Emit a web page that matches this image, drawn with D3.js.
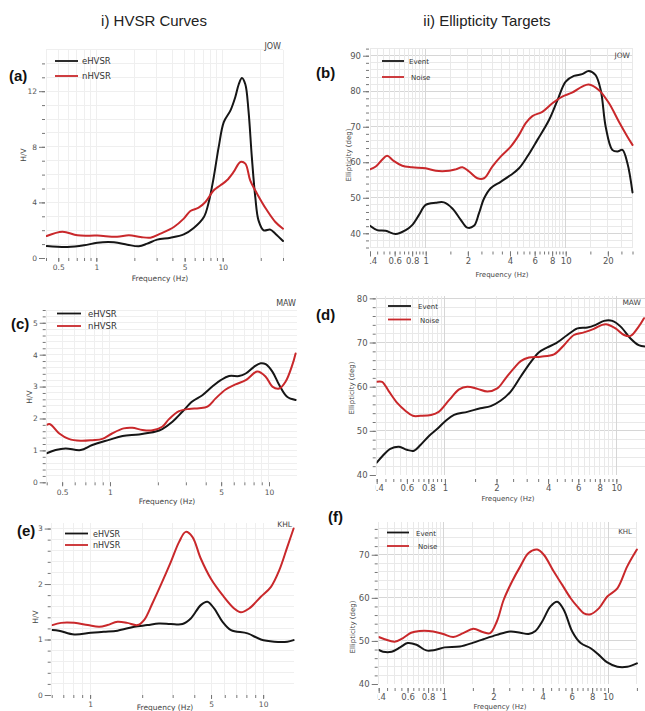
<!DOCTYPE html>
<html>
<head>
<meta charset="utf-8">
<script src="https://cdn.jsdelivr.net/npm/d3@7"></script>
<style>
  body { margin: 0; background: #fff; }
  svg { display: block; }
  text { font-family: "DejaVu Sans", Verdana, sans-serif; }
</style>
</head>
<body>
<svg id="fig" width="645" height="711"></svg>
<script>
// ---------- (a) JOW, HVSR ----------
const aFreqE = [0.405,0.59,0.80,1.02,1.38,1.76,2.17,2.53,3.03,3.86,4.92,5.9,7.1,7.76,8.5,9.3,10.2,11.5,12.6,13.4,14.2,15.1,16.0,17.0,18.1,19.2,21.1,23.8,26.1,30];
const aHVE   = [0.86,0.79,0.91,1.10,1.13,0.96,0.84,1.03,1.32,1.46,1.70,2.16,2.95,4.03,5.83,7.99,9.78,10.6,11.6,12.5,12.95,12.5,10.6,7.27,4.39,2.71,1.99,2.04,1.75,1.22];
const aFreqN = [0.405,0.54,0.71,1.02,1.46,1.81,2.24,2.68,3.22,4.11,4.92,5.55,6.45,7.3,8.5,9.6,10.8,12.2,13.8,15.1,16.5,18.7,22.4,26.1,30];
const aHVN   = [1.58,1.89,1.63,1.61,1.53,1.63,1.51,1.46,1.75,2.23,2.83,3.38,3.62,4.03,4.87,5.23,5.59,6.19,6.91,6.79,5.59,4.63,3.43,2.59,2.11];

// ---------- (b) JOW, ellipticity ----------
const bFreqE = [0.4,0.45,0.518,0.61,0.72,0.80,0.896,1.0,1.18,1.35,1.55,1.78,1.98,2.21,2.40,2.61,2.91,3.43,4.05,4.64,5.32,6.28,7.6,8.74,10.0,11.45,13.1,14.6,16.3,17.8,19.3,21.5,23.4,25.4,27.6,30];
const bEllE  = [42.1,40.9,40.7,39.8,40.9,42.3,45.2,48.0,48.6,48.7,47.0,43.8,41.6,42.1,45.6,49.8,52.7,54.5,56.4,58.3,61.6,66.3,71.9,77.5,82.7,84.3,84.8,85.7,84.6,80.3,70.0,63.5,63.0,63.5,59.7,51.5];
const bFreqN = [0.4,0.44,0.49,0.53,0.59,0.68,0.80,1.0,1.18,1.47,1.64,1.83,2.04,2.34,2.61,2.99,3.43,4.05,4.64,5.18,5.78,6.81,8.03,9.45,11.1,13.1,14.6,17.3,20.4,24.0,27.6,30];
const bEllN  = [58.0,58.8,60.8,61.8,60.4,59.0,58.6,58.3,57.6,57.6,58.0,58.6,57.4,55.5,55.5,58.8,61.6,64.4,67.7,71.0,73.0,74.2,76.6,78.5,79.6,81.3,81.9,80.3,76.6,71.4,67.2,64.9];

// ---------- (c) MAW, HVSR ----------
const cFreqE = [0.4,0.455,0.526,0.654,0.774,0.986,1.20,1.52,1.94,2.13,2.47,2.85,3.29,3.81,4.40,4.97,5.61,6.48,7.14,8.05,8.87,9.53,10.5,11.6,13.0,14.7];
const cHVE   = [0.91,1.01,1.06,1.01,1.17,1.33,1.45,1.50,1.59,1.67,1.90,2.21,2.53,2.73,3.00,3.20,3.33,3.33,3.41,3.62,3.73,3.70,3.47,3.05,2.68,2.58];
const cFreqN = [0.4,0.42,0.48,0.55,0.654,0.774,0.895,1.03,1.22,1.38,1.60,1.85,2.13,2.35,2.72,3.14,3.63,4.10,4.62,5.34,6.16,7.14,8.44,9.53,10.5,11.6,12.7,14.0,14.7];
const cHVN   = [1.80,1.82,1.53,1.36,1.30,1.32,1.36,1.53,1.69,1.71,1.64,1.63,1.74,1.98,2.23,2.30,2.32,2.37,2.63,2.91,3.07,3.20,3.47,3.31,3.00,2.94,3.15,3.67,4.04];

// ---------- (d) MAW, ellipticity ----------
const dFreqE = [0.40,0.43,0.48,0.54,0.60,0.66,0.72,0.81,0.90,1.0,1.13,1.35,1.61,1.85,2.11,2.42,2.77,3.16,3.54,3.96,4.43,5.18,5.93,6.78,7.58,8.48,9.48,10.6,12.1,13.5,14.8];
const dEllE  = [42.8,44.2,45.9,46.4,45.7,45.5,46.8,48.9,50.4,52.1,53.6,54.3,55.1,55.6,56.8,58.9,62.3,65.5,67.8,68.9,69.8,71.7,73.2,73.4,74.0,74.9,74.9,73.6,70.9,69.4,69.1];
const dFreqN = [0.40,0.43,0.47,0.53,0.59,0.65,0.72,0.83,0.92,1.06,1.21,1.35,1.55,1.77,2.02,2.26,2.53,2.77,3.09,3.62,4.33,4.95,5.66,6.47,7.40,8.27,8.86,9.89,11.1,12.1,13.5,14.5];
const dEllN  = [61.1,61.1,59.0,56.2,54.5,53.4,53.4,53.6,54.3,57.0,59.4,60.0,59.5,58.9,59.6,61.9,64.2,65.8,66.6,66.8,67.3,69.4,71.7,72.3,73.1,74.0,74.1,73.2,71.7,71.5,73.6,75.5];

// ---------- (e) KHL, HVSR ----------
const eFreqE = [0.605,0.66,0.81,1.01,1.20,1.44,1.80,2.14,2.50,2.93,3.42,3.82,4.36,4.76,5.21,5.83,6.52,8.13,9.7,11.6,13.8,15.0];
const eHVE   = [1.17,1.16,1.09,1.12,1.14,1.16,1.23,1.26,1.29,1.28,1.28,1.38,1.62,1.68,1.56,1.32,1.17,1.11,1.00,0.96,0.96,0.99];
const eFreqN = [0.605,0.68,0.81,0.97,1.13,1.26,1.44,1.64,1.88,2.05,2.29,2.56,2.93,3.27,3.57,3.90,4.36,4.98,5.83,6.80,7.43,8.30,9.7,11.1,12.4,13.8,15.0];
const eHVN   = [1.26,1.30,1.30,1.26,1.23,1.26,1.32,1.30,1.26,1.35,1.65,1.98,2.40,2.76,2.94,2.85,2.46,2.10,1.80,1.56,1.49,1.56,1.77,1.95,2.25,2.67,3.0];

// ---------- (f) KHL, ellipticity ----------
const fFreqE = [0.4,0.425,0.48,0.54,0.60,0.68,0.78,0.88,1.01,1.25,1.51,1.74,2.10,2.54,2.92,3.28,3.61,3.97,4.46,4.90,5.38,6.05,6.81,7.84,8.82,9.9,11.4,13.1,15.0];
const fEllE  = [47.9,47.5,47.5,48.5,49.5,49.1,47.8,47.9,48.5,48.7,49.6,50.4,51.4,52.2,51.9,51.6,52.3,54.5,58.0,59.1,57.2,52.2,49.5,48.3,46.7,45.0,44.0,44.0,44.8];
const fFreqN = [0.4,0.435,0.50,0.56,0.63,0.71,0.86,0.99,1.14,1.31,1.51,1.74,1.91,2.10,2.31,2.60,2.92,3.28,3.70,4.06,4.67,5.26,5.92,6.49,7.13,7.84,8.82,9.9,11.4,13.1,15.0];
const fEllN  = [50.9,50.4,49.8,50.6,51.9,52.3,52.2,51.6,50.9,51.8,52.8,52.0,51.8,54.5,59.5,63.8,67.3,70.4,71.2,70.0,66.1,63.0,59.9,58.0,56.4,56.2,57.6,60.3,62.2,67.3,71.2];

// ---------- tick labels ----------
const hvsrXTicksA = [0.5, 1, 5, 10];
const hvsrXTicksC = [0.5, 1, 5, 10];
const hvsrXTicksE = [1, 5, 10];
const hvsrYTicksA = [0, 4, 8, 12];
const hvsrYTicksC = [0, 1, 2, 3, 4, 5];
const hvsrYTicksE = [0, 1, 2, 3];
const ellXTicksB = [0.4, 0.6, 0.8, 1, 2, 4, 6, 8, 10, 20];
const ellXTicksDF = [0.4, 0.6, 0.8, 1, 2, 4, 6, 8, 10];
const ellYTicksB = [40, 50, 60, 70, 80, 90];
const ellYTicksD = [40, 50, 60, 70, 80];
const ellYTicksF = [40, 50, 60, 70];

const hvsrLegend = ["eHVSR", "nHVSR"];
const ellLegend = ["Event", "Noise"];
const columnTitles = ["i) HVSR Curves", "ii) Ellipticity Targets"];

const BLACK = "#161616", RED = "#c9282b";
const svg = d3.select("#fig");

// minor tick helpers on the log frequency axis
function decadeMinor(lo, hi) {
  const out = [];
  for (let k = -1; k <= 1; k++)
    for (let m = 1; m <= 9; m++) {
      const v = +(m * Math.pow(10, k)).toPrecision(3);
      if (v >= lo - 1e-9 && v <= hi + 1e-9) out.push(v);
    }
  return out;
}
function fineMinor(lo, hi) {
  const out = [];
  for (let v = 0.4; v < 1 - 1e-9; v += 0.05) out.push(+v.toFixed(2));
  for (let v = 1; v < 10 - 1e-9; v += 0.5) out.push(+v.toFixed(1));
  for (let v = 10; v <= 30 + 1e-9; v += 5) out.push(v);
  return out.filter(v => v >= lo - 1e-9 && v <= hi + 1e-9);
}
function range(a, b, s) { const o = []; for (let v = a; v <= b + 1e-9; v += s) o.push(+v.toFixed(3)); return o; }

function drawPanel(p) {
  const g = svg.append("g");
  const x = d3.scaleLog().domain(p.xDomain).range(p.xRange);
  const y = d3.scaleLinear().domain(p.yDomain).range(p.yRange);
  const [x0, x1] = p.xRange, [yb, yt] = p.yRange;

  // grid
  const grid = g.append("g");
  grid.selectAll("line.h").data(p.yGrid).join("line")
    .attr("x1", x0).attr("x2", x1)
    .attr("y1", d => y(d)).attr("y2", d => y(d))
    .attr("stroke", d => p.yMajorGrid && p.yTicks.includes(d) ? p.gridMajor : p.gridColor)
    .attr("stroke-width", 1).attr("shape-rendering", "crispEdges");
  grid.selectAll("line.v").data(p.xGrid).join("line")
    .attr("x1", d => x(d)).attr("x2", d => x(d))
    .attr("y1", yt).attr("y2", yb)
    .attr("stroke", d => p.xMajorGrid && [1, 10].includes(d) ? p.gridMajor : p.gridColor)
    .attr("stroke-width", 1).attr("shape-rendering", "crispEdges");

  // y axis (major + minor)
  const yAx = g.append("g").attr("transform", `translate(${x0 - 1},0)`);
  yAx.call(d3.axisLeft(y).tickValues(p.yMinor).tickSize(3).tickFormat(""));
  const yAxM = g.append("g").attr("transform", `translate(${x0 - 1},0)`);
  yAxM.call(d3.axisLeft(y).tickValues(p.yTicks).tickSize(6).tickPadding(2).tickFormat(d3.format("d")));
  // x axis (major + minor); labels left of the plot edge are cut by the y axis
  const xAx = g.append("g").attr("transform", `translate(0,${yb + p.xAxisGap})`);
  xAx.call(d3.axisBottom(x).tickValues(p.xMinor).tickSize(3).tickFormat(""));
  const clipLab = "clab-" + p.id;
  svg.append("clipPath").attr("id", clipLab).append("rect")
    .attr("x", x0 - 1).attr("y", -3).attr("width", x1 - x0 + 30).attr("height", 40);
  const xAxM = g.append("g").attr("transform", `translate(0,${yb + p.xAxisGap})`)
    .attr("clip-path", `url(#${clipLab})`);
  xAxM.call(d3.axisBottom(x).tickValues(p.xTicks).tickSize(p.xMajorTick).tickPadding(p.xPad).tickFormat(d => String(d)));
  [yAx, yAxM, xAx, xAxM].forEach(a => {
    a.select(".domain").remove();
    a.selectAll("line").attr("stroke", "#777");
    a.selectAll("text").attr("fill", "#555").style("font-size", p.tickFont + "px");
  });

  // curves
  const clip = "clip-" + p.id;
  svg.append("clipPath").attr("id", clip).append("rect")
    .attr("x", x0).attr("y", yt - 3).attr("width", x1 - x0 + 2).attr("height", yb - yt + 3);
  const line = d3.line().x(d => x(d[0])).y(d => y(d[1])).curve(d3.curveCatmullRom.alpha(0.5));
  const curves = g.append("g").attr("clip-path", `url(#${clip})`);
  p.series.forEach(s => {
    curves.append("path")
      .datum(s.f.map((f, i) => [f, s.v[i]]))
      .attr("d", line).attr("fill", "none")
      .attr("stroke", s.color).attr("stroke-width", 2)
      .attr("stroke-linejoin", "round").attr("stroke-linecap", "round");
  });

  // legend
  p.series.forEach((s, i) => {
    const ly = p.legend.y + i * p.legend.gap;
    g.append("line").attr("x1", p.legend.x).attr("x2", p.legend.x + p.legend.len)
      .attr("y1", ly).attr("y2", ly).attr("stroke", s.color).attr("stroke-width", 1.8);
    g.append("text").attr("x", p.legend.x + p.legend.len + p.legend.pad + (i === 1 ? p.legend.indent : 0))
      .attr("y", ly + 3).attr("fill", "#333").style("font-size", p.legend.font + "px").text(s.name);
  });

  // station name
  g.append("text").attr("x", p.station.x).attr("y", p.station.y).attr("text-anchor", "end")
    .attr("fill", "#444").style("font-size", p.station.font + "px").text(p.station.name);

  // axis titles
  g.append("text").attr("x", p.xTitle.x).attr("y", p.xTitle.y).attr("text-anchor", "middle")
    .attr("fill", "#444").style("font-size", p.xTitle.font + "px").text("Frequency (Hz)");
  g.append("text").attr("transform", `translate(${p.yTitle.x},${p.yTitle.y}) rotate(-90)`)
    .attr("text-anchor", "middle").attr("fill", "#444").style("font-size", p.yTitle.font + "px").text(p.yTitle.text);

  // panel letter
  g.append("text").attr("x", p.letter.x).attr("y", p.letter.y)
    .style("font-family", "'Liberation Sans', Arial, sans-serif").style("font-weight", "bold")
    .style("font-size", "15px").attr("fill", "#111").text(p.letter.text);
}

// column titles
svg.append("text").attr("x", 154).attr("y", 26).attr("text-anchor", "middle")
  .style("font-family", "'Liberation Sans', Arial, sans-serif").style("font-size", "15px").attr("fill", "#222").text(columnTitles[0]);
svg.append("text").attr("x", 487).attr("y", 26).attr("text-anchor", "middle")
  .style("font-family", "'Liberation Sans', Arial, sans-serif").style("font-size", "15px").attr("fill", "#222").text(columnTitles[1]);

const hvsrStyle = { gridColor: "#efefef", gridMajor: "#e6e6e6", tickFont: 7.5, xMajorTick: 4, xPad: 3, xAxisGap: 0, yMajorGrid: false, xMajorGrid: false };
const ellStyle  = { gridColor: "#e9e9e9", gridMajor: "#d6d6d6", tickFont: 8.5, xMajorTick: 5, xPad: 1, xAxisGap: 4, yMajorGrid: true, xMajorGrid: true };

// (a)
drawPanel(Object.assign({}, hvsrStyle, {
  id: "a", xDomain: [0.4, 30], xRange: [46, 283], yDomain: [0, 15], yRange: [258, 49.5],
  xTicks: hvsrXTicksA, xMinor: decadeMinor(0.4, 30), xGrid: decadeMinor(0.4, 30),
  yTicks: hvsrYTicksA, yMinor: range(0, 14, 1), yGrid: range(1, 15, 1),
  series: [{ name: hvsrLegend[0], f: aFreqE, v: aHVE, color: BLACK }, { name: hvsrLegend[1], f: aFreqN, v: aHVN, color: RED }],
  legend: { x: 55, y: 61, gap: 15, len: 23, pad: 4, indent: 0, font: 8.5 },
  station: { name: "JOW", x: 281, y: 49, font: 8 },
  xTitle: { x: 160, y: 281, font: 7.5 }, yTitle: { x: 26, y: 155, font: 7.5, text: "H/V" },
  letter: { x: 9, y: 81, text: "(a)" }
}));
// (b)
drawPanel(Object.assign({}, ellStyle, {
  id: "b", xDomain: [0.4, 30], xRange: [370, 632.5], yDomain: [36, 92], yRange: [247.5, 48.6],
  xTicks: ellXTicksB, xMinor: fineMinor(0.4, 30), xGrid: fineMinor(0.4, 30),
  yTicks: ellYTicksB, yMinor: range(36, 92, 2), yGrid: range(36, 92, 2),
  series: [{ name: ellLegend[0], f: bFreqE, v: bEllE, color: BLACK }, { name: ellLegend[1], f: bFreqN, v: bEllN, color: RED }],
  legend: { x: 382, y: 61, gap: 16, len: 22, pad: 5, indent: 2, font: 7 },
  station: { name: "JOW", x: 630, y: 58, font: 7.5 },
  xTitle: { x: 502, y: 277, font: 7 }, yTitle: { x: 351, y: 155, font: 7, text: "Ellipticity (deg)" },
  letter: { x: 316, y: 78, text: "(b)" }
}));
// (c)
drawPanel(Object.assign({}, hvsrStyle, {
  id: "c", xDomain: [0.4, 15], xRange: [46.7, 297], yDomain: [0, 5.4], yRange: [482.3, 310],
  xTicks: hvsrXTicksC, xMinor: decadeMinor(0.4, 15), xGrid: decadeMinor(0.4, 15),
  yTicks: hvsrYTicksC, yMinor: range(0, 5.4, 0.2), yGrid: range(0.2, 5.4, 0.2),
  series: [{ name: hvsrLegend[0], f: cFreqE, v: cHVE, color: BLACK }, { name: hvsrLegend[1], f: cFreqN, v: cHVN, color: RED }],
  legend: { x: 57, y: 313.5, gap: 12.5, len: 24, pad: 7, indent: 0, font: 8.5 },
  station: { name: "MAW", x: 296, y: 306, font: 8 },
  xTitle: { x: 167, y: 504, font: 7.5 }, yTitle: { x: 32, y: 397, font: 7.5, text: "H/V" },
  letter: { x: 11, y: 329, text: "(c)" }
}));
// (d)
drawPanel(Object.assign({}, ellStyle, {
  id: "d", xDomain: [0.4, 15], xRange: [376.7, 646.5], yDomain: [40, 80.6], yRange: [475, 295.7],
  xTicks: ellXTicksDF, xMinor: fineMinor(0.4, 15), xGrid: fineMinor(0.4, 15),
  yTicks: ellYTicksD, yMinor: range(40, 80, 2), yGrid: range(42, 80, 2),
  series: [{ name: ellLegend[0], f: dFreqE, v: dEllE, color: BLACK }, { name: ellLegend[1], f: dFreqN, v: dEllN, color: RED }],
  legend: { x: 388, y: 306, gap: 13.5, len: 23, pad: 7, indent: 2, font: 7 },
  station: { name: "MAW", x: 641, y: 305, font: 7.5 },
  xTitle: { x: 508, y: 501, font: 7 }, yTitle: { x: 354, y: 388, font: 7, text: "Ellipticity (deg)" },
  letter: { x: 316, y: 320, text: "(d)" }
}));
// (e)
drawPanel(Object.assign({}, hvsrStyle, {
  id: "e", xDomain: [0.6, 15], xRange: [51.7, 293.6], yDomain: [0, 3.1], yRange: [695, 523],
  xTicks: hvsrXTicksE, xMinor: decadeMinor(0.6, 15), xGrid: decadeMinor(0.6, 15),
  yTicks: hvsrYTicksE, yMinor: range(0, 3, 0.2), yGrid: range(0.2, 3, 0.2),
  series: [{ name: hvsrLegend[0], f: eFreqE, v: eHVE, color: BLACK }, { name: hvsrLegend[1], f: eFreqN, v: eHVN, color: RED }],
  legend: { x: 65, y: 533.5, gap: 11.5, len: 23, pad: 5, indent: 0, font: 8 },
  station: { name: "KHL", x: 292, y: 527, font: 7.5 },
  xTitle: { x: 165, y: 710, font: 7.5 }, yTitle: { x: 38, y: 617, font: 7.5, text: "H/V" },
  letter: { x: 17, y: 536, text: "(e)" }
}));
// (f)
drawPanel(Object.assign({}, ellStyle, {
  id: "f", xDomain: [0.4, 15], xRange: [378.7, 636.9], yDomain: [40, 77.6], yRange: [684, 522],
  xTicks: ellXTicksDF, xMinor: fineMinor(0.4, 15), xGrid: fineMinor(0.4, 15),
  yTicks: ellYTicksF, yMinor: range(40, 76, 2), yGrid: range(42, 76, 2),
  series: [{ name: ellLegend[0], f: fFreqE, v: fEllE, color: BLACK }, { name: ellLegend[1], f: fFreqN, v: fEllN, color: RED }],
  legend: { x: 387, y: 532.5, gap: 13.5, len: 22, pad: 7, indent: 2, font: 7 },
  station: { name: "KHL", x: 632, y: 534, font: 7 },
  xTitle: { x: 500, y: 709, font: 7 }, yTitle: { x: 355, y: 627, font: 7, text: "Ellipticity (deg)" },
  letter: { x: 328, y: 522, text: "(f)" }
}));
</script>
</body>
</html>
